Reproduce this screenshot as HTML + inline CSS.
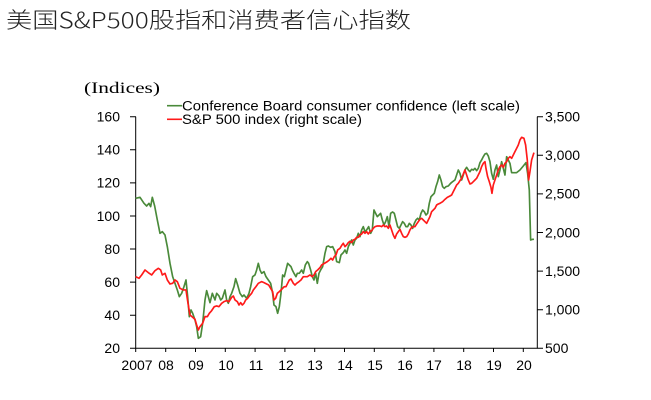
<!DOCTYPE html>
<html><head><meta charset="utf-8"><style>
body{margin:0;background:#fff;width:651px;height:400px;overflow:hidden}
svg{display:block}
text{font-family:"Liberation Sans",Arial,sans-serif;font-size:14px;fill:#000}
</style></head><body>
<svg width="651" height="400" viewBox="0 0 651 400">
<text x="6" y="28" textLength="405" lengthAdjust="spacingAndGlyphs" style="font-family:'Noto Sans CJK SC',sans-serif;font-size:22px;font-weight:300;fill:#222">美国S&amp;P500股指和消费者信心指数</text>
<text x="84" y="93" textLength="76" lengthAdjust="spacingAndGlyphs" style="font-family:'Liberation Serif',serif;font-size:16px">(Indices)</text>
<g stroke="#000" stroke-width="1" fill="none">
<line x1="135.7" y1="116.7" x2="135.7" y2="348.3"/>
<line x1="135.7" y1="348.3" x2="537.3" y2="348.3"/>
<line x1="537.3" y1="116.7" x2="537.3" y2="348.3"/>
<path d="M130,116.7h6M130,149.8h6M130,182.9h6M130,216h6M130,249h6M130,282.1h6M130,315.2h6M130,348.3h6"/>
<path d="M537,116.7h6M537,155.3h6M537,193.9h6M537,232.5h6M537,271.1h6M537,309.7h6M537,348.3h6"/>
<path d="M135.7,348v4M165.7,348v4M195.5,348v4M225.3,348v4M255.1,348v4M284.9,348v4M314.7,348v4M344.5,348v4M374.3,348v4M404.1,348v4M433.9,348v4M463.7,348v4M493.5,348v4M523.3,348v4"/>
</g>
<g text-anchor="end">
<text x="120" y="121.5">160</text><text x="120" y="154.6">140</text><text x="120" y="187.7">120</text><text x="120" y="220.8">100</text><text x="120" y="253.8">80</text><text x="120" y="286.9">60</text><text x="120" y="320">40</text><text x="120" y="353.1">20</text>
</g>
<g>
<text x="545" y="121.5">3,500</text><text x="545" y="160.1">3,000</text><text x="545" y="198.7">2,500</text><text x="545" y="237.3">2,000</text><text x="545" y="275.9">1,500</text><text x="545" y="314.5">1,000</text><text x="545" y="353.1">500</text>
</g>
<g text-anchor="middle">
<text x="137" y="370">2007</text><text x="166" y="370">08</text><text x="196" y="370">09</text><text x="226" y="370">10</text><text x="256" y="370">11</text><text x="286" y="370">12</text><text x="315" y="370">13</text><text x="345" y="370">14</text><text x="375" y="370">15</text><text x="405" y="370">16</text><text x="434" y="370">17</text><text x="464" y="370">18</text><text x="494" y="370">19</text><text x="524" y="370">20</text>
</g>
<line x1="167" y1="105.7" x2="182" y2="105.7" stroke="#4a8a3a" stroke-width="1.6"/>
<text x="182" y="110.5" textLength="338" lengthAdjust="spacingAndGlyphs" style="font-size:13.5px">Conference Board consumer confidence (left scale)</text>
<line x1="167" y1="119.3" x2="182" y2="119.3" stroke="#ff1a1a" stroke-width="1.6"/>
<text x="182" y="124" textLength="180" lengthAdjust="spacingAndGlyphs" style="font-size:13.5px">S&amp;P 500 index (right scale)</text>
<g transform="translate(80,80) scale(0.3333)" fill="none" stroke-width="5" stroke-linejoin="round">
<polyline stroke="#4a8a3a" points="167,355 180,352 192,370 200,378 207,370 212,380 217,352 224,378 232,420 240,460 247,455 255,465 262,500 270,550 278,590 285,610 292,630 298,650 305,640 312,620 318,600 323,650 328,710 333,690 338,700 345,720 350,740 355,775 362,770 368,730 375,660 380,632 385,650 390,668 397,640 405,660 410,640 417,648 422,660 427,655 435,630 440,660 445,670 450,650 455,640 462,620 467,596 473,615 480,640 487,650 492,645 500,655 507,640 512,620 518,590 525,585 530,570 535,550 540,570 545,580 552,575 558,590 565,600 572,610 578,640 582,675 588,680 593,700 598,680 603,640 608,585 613,590 618,570 623,550 628,555 633,560 637,570 642,580 648,590 652,580 658,580 665,570 670,580 676,555 682,545 686,550 692,570 697,590 702,600 707,580 712,610 717,580 722,570 728,560 735,520 740,500 745,498 752,502 758,500 765,515 770,545 778,548 783,525 790,518 795,510 800,520 805,500 810,490 815,480 820,495 825,480 830,475 835,460 840,470 845,450 850,440 855,455 860,450 866,440 872,460 877,450 882,390 887,400 892,410 897,405 902,400 907,420 912,435 917,425 922,410 927,440 932,400 938,396 943,400 948,420 953,440 958,445 963,435 968,425 973,430 978,440 983,440 988,430 993,435 998,445 1003,430 1008,420 1013,415 1018,420 1023,400 1028,390 1033,395 1038,405 1043,400 1048,370 1053,350 1058,345 1063,340 1068,320 1073,305 1078,285 1083,300 1088,320 1093,325 1098,320 1105,318 1112,310 1118,305 1125,300 1130,285 1135,270 1140,280 1145,300 1150,285 1155,270 1160,262 1165,270 1170,275 1175,268 1180,270 1185,265 1190,272 1195,265 1200,248 1205,240 1210,230 1215,222 1220,220 1225,228 1230,245 1235,280 1240,298 1245,270 1250,255 1255,290 1260,270 1265,245 1270,265 1275,285 1280,230 1285,240 1290,250 1295,278 1300,278 1310,278 1320,270 1330,258 1338,248 1343,280 1348,330 1352,480 1358,478 1362,478"/>
<polyline stroke="#ff1a1a" points="167,590 177,595 185,585 195,570 205,578 215,585 225,572 235,565 242,570 247,585 255,580 262,600 270,612 278,610 285,600 292,605 300,625 310,630 318,630 324,670 330,705 338,712 345,718 350,735 355,750 360,740 368,730 375,710 382,710 388,700 395,692 403,680 410,678 417,680 425,670 432,665 440,662 447,665 455,652 460,648 465,660 472,665 477,675 482,668 487,675 492,670 497,660 503,655 508,648 515,640 520,630 528,620 535,610 545,605 552,608 560,612 566,615 572,625 578,635 582,660 587,655 592,640 598,635 603,630 608,625 613,620 618,620 623,610 628,600 633,597 640,610 645,615 650,610 657,605 663,600 670,590 677,590 682,590 690,585 697,590 702,585 707,575 713,570 720,563 725,555 730,552 737,548 742,545 748,540 753,535 758,540 763,530 768,525 773,510 780,505 786,495 790,490 795,500 800,495 805,488 810,484 815,488 820,480 825,478 830,472 835,472 840,465 845,462 850,455 855,460 860,455 865,462 870,455 875,452 880,445 885,440 892,438 900,438 905,440 910,435 915,440 920,438 925,445 930,435 935,450 940,465 945,475 950,462 955,455 960,448 965,460 970,470 975,472 980,470 985,462 990,450 995,442 1000,440 1005,440 1010,432 1015,425 1020,418 1025,415 1030,420 1035,425 1040,430 1045,420 1050,410 1055,395 1060,390 1065,385 1070,375 1075,372 1080,370 1088,365 1095,358 1102,352 1110,348 1115,345 1120,335 1125,325 1130,315 1135,310 1140,302 1145,295 1150,282 1155,270 1160,285 1165,300 1170,312 1175,310 1180,305 1185,300 1190,295 1195,285 1200,275 1205,260 1210,250 1215,245 1218,265 1223,290 1228,305 1233,322 1236,340 1240,315 1245,300 1250,285 1255,270 1260,260 1265,255 1270,262 1275,250 1280,245 1285,235 1290,230 1295,235 1300,225 1305,215 1310,205 1315,195 1320,180 1325,172 1332,175 1337,195 1342,240 1346,300 1350,275 1355,240 1362,218"/>
</g>
</svg>
</body></html>
